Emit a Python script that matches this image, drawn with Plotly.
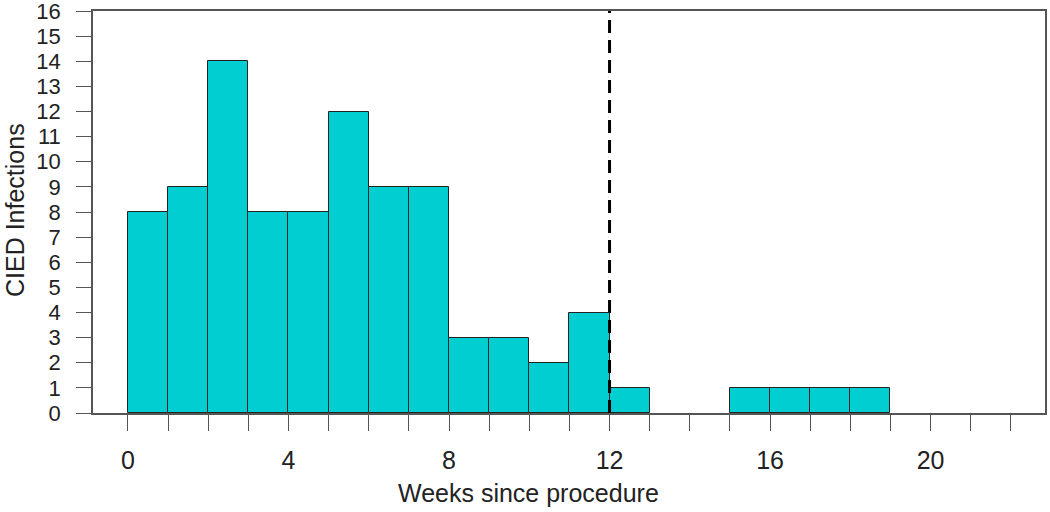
import plotly.graph_objects as go

bin_left = list(range(0, 19))
counts = [8, 9, 14, 8, 8, 12, 9, 9, 3, 3, 2, 4, 1, 0, 0, 1, 1, 1, 1]
x_tick_vals = list(range(0, 23))
x_tick_labels = [str(v) if v % 4 == 0 and v <= 20 else "" for v in x_tick_vals]
y_tick_vals = list(range(0, 17))
cutoff_week = 12
x_title = "Weeks since procedure"
y_title = "CIED Infections"

fig = go.Figure()
fig.add_trace(go.Bar(
    x=[b + 0.5 for b in bin_left],
    y=[c if c > 0 else None for c in counts],
    width=1,
    marker=dict(color="#00CED1", line=dict(color="#222222", width=1)),
    hoverinfo="x+y",
))
fig.add_shape(type="line", x0=cutoff_week, x1=cutoff_week, y0=0, y1=16,
              xref="x", yref="y",
              line=dict(color="black", width=3, dash="13px,7px"))

fam = "Liberation Sans, Arial, sans-serif"
ytick_font = dict(family=fam, size=22, color="#222222")
xtick_font = dict(family=fam, size=25, color="#222222")
title_font = dict(family=fam, size=25, color="#222222")

fig.add_annotation(text=x_title, xref="paper", yref="paper", x=0.4575, y=0,
                   xanchor="center", yanchor="middle", yshift=-80,
                   showarrow=False, font=title_font)
fig.add_annotation(text=y_title, xref="paper", yref="paper", x=0, y=0.5,
                   xanchor="center", yanchor="middle", xshift=-78, yshift=2,
                   textangle=-90, showarrow=False, font=title_font)

fig.update_layout(
    width=1050, height=512,
    margin=dict(l=93, r=5, t=11, b=99),
    paper_bgcolor="white", plot_bgcolor="white",
    showlegend=False,
    bargap=0,
    xaxis=dict(
        range=[-0.87, 22.85], automargin=False,
        tickmode="array", tickvals=x_tick_vals, ticktext=x_tick_labels,
        ticks="outside", ticklen=16, tickcolor="#555555", tickwidth=1,
        ticklabelstandoff=8, ticklabeloverflow="allow",
        showline=True, linecolor="#555555", linewidth=1.5, mirror=True,
        showgrid=False, zeroline=False,
        tickfont=xtick_font,
    ),
    yaxis=dict(
        range=[0, 16], automargin=False,
        tickmode="array", tickvals=y_tick_vals,
        ticks="outside", ticklen=15, tickcolor="#555555", tickwidth=1,
        ticklabelstandoff=11, ticklabeloverflow="allow",
        showline=True, linecolor="#555555", linewidth=1.5, mirror=True,
        showgrid=False, zeroline=False,
        tickfont=ytick_font,
    ),
)
fig.write_html(
    "out.html",
    config={"displayModeBar": False},
    post_script="document.body.style.margin='0';document.body.style.overflow='hidden';",
)
